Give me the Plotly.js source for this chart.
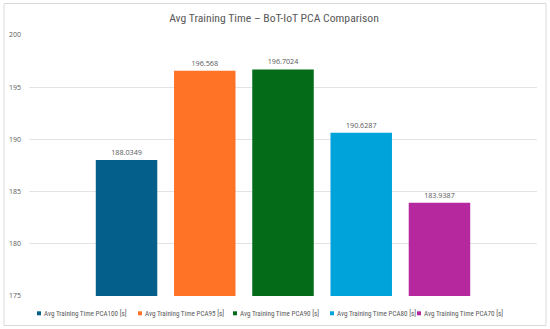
<!DOCTYPE html>
<html><head><meta charset="utf-8">
<script src="https://cdn.plot.ly/plotly-3.0.1.min.js"></script>
<style>html,body{margin:0;padding:0;background:#fff}#c{width:550px;height:329px}</style>
</head><body><div id="c"></div>
<script>
var seriesNames = ["Avg Training Time PCA100 [s]","Avg Training Time PCA95 [s]","Avg Training Time PCA90 [s]","Avg Training Time PCA80 [s]","Avg Training Time PCA70 [s]"];
var seriesValues = [188.0349, 196.568, 196.7024, 190.6287, 183.9387];
var seriesLabels = ["188.0349","196.568","196.7024","190.6287","183.9387"];
var category = [""];
var colors = ["#04608A","#FF7327","#046B18","#00A3DA","#B5289E"];
var yTicks = [175,180,185,190,195,200];

// layout helpers (pixel -> paper)
var L = 29, R = 537, T = 35, B = 296;
function px(x){ return (x - L) / (R - L); }
function py(y){ return (B - y) / (B - T); }

var traces = seriesNames.map(function(n,i){
  return {type:"bar", name:n, x:category, y:[seriesValues[i]], text:[seriesLabels[i]],
    textposition:"outside", cliponaxis:false,
    textfont:{family:"Open Sans, sans-serif", size:7.2, color:"#595959"},
    marker:{color:colors[i]}, hoverinfo:"none", showlegend:false};
});

// custom compact legend (small squares like the original)
var legendX = [37, 138, 233, 330, 417];
var legendY = 313.3;
var shapes = [{type:"rect", xref:"paper", yref:"paper", x0:px(4), x1:px(546), y0:py(325.5), y1:py(3.5),
    line:{color:"#d9d9d9", width:1}, fillcolor:"rgba(0,0,0,0)", layer:"below"}];
var annotations = [];
seriesNames.forEach(function(n,i){
  shapes.push({type:"rect", xref:"paper", yref:"paper", x0:px(legendX[i]), x1:px(legendX[i]+4),
    y0:py(legendY+2), y1:py(legendY-2), line:{width:0}, fillcolor:colors[i]});
  annotations.push({text:n, xref:"paper", yref:"paper", x:px(legendX[i]+5), y:py(legendY), xanchor:"left", yanchor:"middle",
    showarrow:false, font:{family:"Roboto Condensed, sans-serif", size:7.1, color:"#595959"}});
});

var layout = {
  width:550, height:329,
  margin:{l:L, r:550-R, t:T, b:329-B},
  paper_bgcolor:"#ffffff", plot_bgcolor:"#ffffff",
  barmode:"group", bargap:0.23, bargroupgap:0.214,
  title:{text:"Avg Training Time – BoT-IoT PCA Comparison", x:(274)/550, xref:"container", xanchor:"center", y:1-18/329, yanchor:"middle",
    font:{family:"Roboto Condensed, sans-serif", size:11.7, color:"#595959"}},
  xaxis:{showticklabels:false, showgrid:false, zeroline:false, showline:false},
  yaxis:{range:[175,200], tickvals:yTicks, ticktext:yTicks.map(String), showgrid:true, gridcolor:"#e3e3e3", gridwidth:1,
    zeroline:false, showline:false, ticks:"", ticklabelstandoff:7,
    tickfont:{family:"Open Sans, sans-serif", size:7, color:"#595959"}},
  showlegend:false,
  shapes:shapes,
  annotations:annotations
};
Plotly.newPlot("c", traces, layout, {displayModeBar:false, staticPlot:true});
</script></body></html>
